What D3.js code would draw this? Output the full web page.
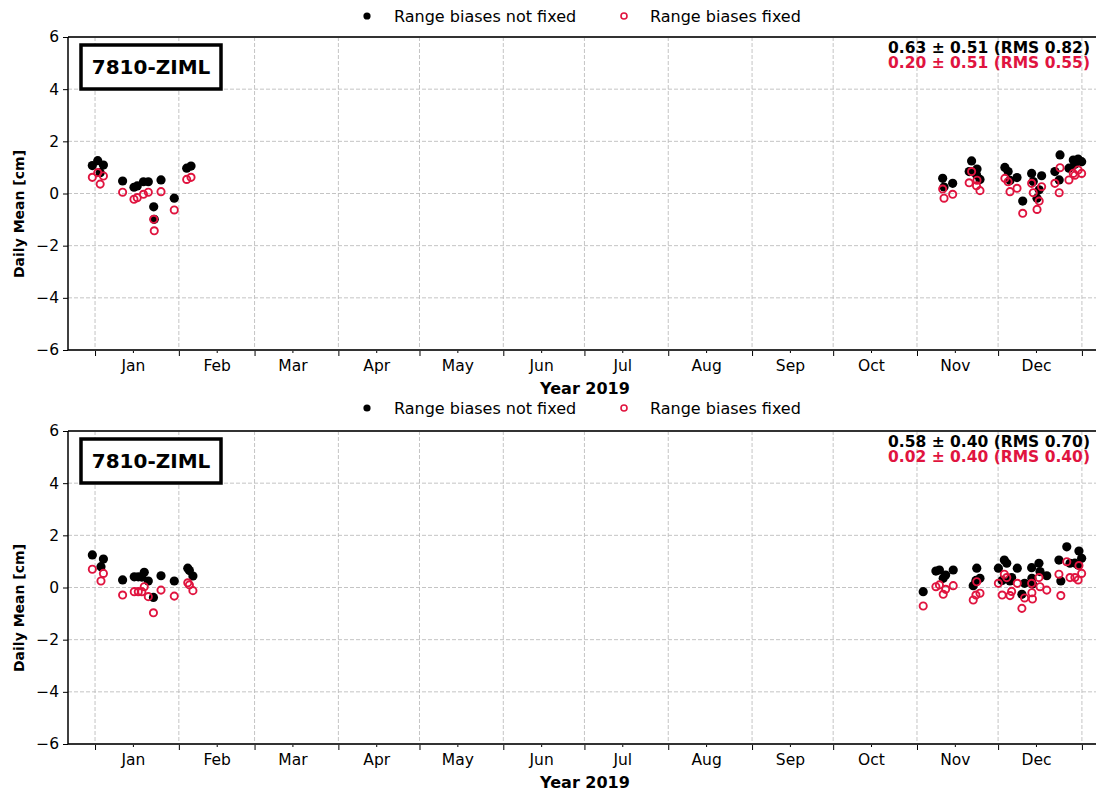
<!DOCTYPE html>
<html><head><meta charset="utf-8">
<script src="https://cdn.jsdelivr.net/npm/d3@7"></script>
<style>
body{margin:0;background:#fff;}
text{font-family:"DejaVu Sans",sans-serif;}
</style></head>
<body><svg id="c" width="1096" height="791"></svg>
<script>
// ---- data (day offsets from 2019-01-01 00:00 UTC, values in cm) ----
const topDays = [-1.0, 1.0, 1.9, 3.1, 10.2, 14.4, 15.6, 17.9, 19.7, 21.7, 21.9, 24.4, 29.3, 33.9, 35.5,
  313.5, 314.0, 317.2, 323.3, 324.2, 326.0, 326.2, 327.3, 336.5, 337.7, 338.4, 341.0, 343.1, 346.4, 347.0,
  348.4, 349.2, 350.1, 355.0, 356.6, 356.9, 360.2, 361.8, 362.4, 363.6, 364.9];
const topNotFixed = [1.07, 1.26, 0.80, 1.09, 0.48, 0.24, 0.29, 0.45, 0.45, -0.51, -0.99, 0.52, -0.18, 0.97, 1.05,
  0.58, 0.25, 0.39, 0.84, 1.25, 0.72, 0.94, 0.54, 1.00, 0.84, 0.50, 0.61, -0.29, 0.77, 0.46,
  -0.18, 0.14, 0.68, 0.84, 0.52, 1.48, 0.97, 1.28, 1.12, 1.32, 1.22];
const topFixed = [0.62, 0.80, 0.36, 0.67, 0.05, -0.22, -0.16, -0.03, 0.05, -0.99, -1.43, 0.07, -0.63, 0.54, 0.62,
  0.17, -0.18, -0.03, 0.41, 0.84, 0.30, 0.51, 0.11, 0.58, 0.45, 0.07, 0.20, -0.76, 0.39, 0.03,
  -0.61, -0.29, 0.26, 0.39, 0.03, 0.99, 0.52, 0.77, 0.70, 0.90, 0.77];

const bottomDays = [-1.0, 2.2, 3.1, 10.2, 14.5, 16.0, 17.3, 18.2, 19.7, 21.6, 24.4, 29.3, 34.3, 34.9, 36.2,
  306.3, 311.0, 312.3, 313.7, 314.6, 317.4, 324.8, 325.8, 326.1, 327.3, 334.1, 335.5, 336.3, 337.2, 338.4,
  339.0, 341.1, 342.8, 343.8, 346.4, 346.5, 346.7, 349.1, 349.5, 352.0, 356.5, 357.2, 359.4, 360.6, 362.4,
  363.6, 363.9, 364.9];
const bottomNotFixed = [1.25, 0.80, 1.09, 0.29, 0.41, 0.41, 0.40, 0.58, 0.25, -0.38, 0.45, 0.25, 0.74, 0.65, 0.44,
  -0.16, 0.63, 0.67, 0.35, 0.48, 0.67, 0.07, 0.27, 0.74, 0.35, 0.74, 0.27, 1.05, 0.93, 0.25,
  0.38, 0.74, -0.26, 0.16, 0.76, 0.35, 0.13, 0.93, 0.61, 0.45, 1.05, 0.25, 1.56, 0.93, 0.94,
  0.86, 1.40, 1.12];
const bottomFixed = [0.70, 0.25, 0.54, -0.29, -0.16, -0.16, -0.16, 0.03, -0.35, -0.97, -0.10, -0.33, 0.18, 0.10, -0.12,
  -0.71, 0.03, 0.10, -0.26, -0.07, 0.07, -0.48, -0.29, 0.22, -0.22, 0.16, -0.29, 0.51, 0.38, -0.31,
  -0.15, 0.16, -0.80, -0.40, 0.16, -0.20, -0.44, 0.38, 0.03, -0.10, 0.51, -0.31, 0.99, 0.38, 0.38,
  0.29, 0.84, 0.54];

const monthLabels = ["Jan","Feb","Mar","Apr","May","Jun","Jul","Aug","Sep","Oct","Nov","Dec"];
const yTicks = [-6, -4, -2, 0, 2, 4, 6];
const legendLabels = ["Range biases not fixed", "Range biases fixed"];
const stationName = "7810-ZIML";
const topStats = ["0.63 \u00b1 0.51 (RMS 0.82)", "0.20 \u00b1 0.51 (RMS 0.55)"];
const bottomStats = ["0.58 \u00b1 0.40 (RMS 0.70)", "0.02 \u00b1 0.40 (RMS 0.40)"];
const xTitle = "Year 2019";
const yTitle = "Daily Mean [cm]";

// ---- drawing ----
const RED = "#e0143f";
const FONT = "DejaVu Sans, sans-serif";
const svg = d3.select("#c");
const DAY = 86400000;
const t0 = Date.UTC(2019, 0, 1);
const toDate = d => new Date(t0 + d * DAY);

const x = d3.scaleUtc()
  .domain([new Date(Date.UTC(2018, 11, 22)), new Date(Date.UTC(2020, 0, 6, 5))])
  .range([68, 1096]);
const monthStarts = d3.utcMonth.range(new Date(Date.UTC(2019, 0, 1)), new Date(Date.UTC(2020, 0, 2)));
const midMonths = monthLabels.map((m, i) => new Date(Date.UTC(2019, i, 15)));

function panel(top, bottom, days, nf, fx, stats, legendY) {
  const y = d3.scaleLinear().domain([-6, 6]).range([bottom, top]);
  const g = svg.append("g");
  const [x0, x1] = x.range();

  // legend
  const lg = g.append("g");
  lg.append("circle").attr("cx", 367).attr("cy", legendY).attr("r", 3.6).attr("fill", "#000");
  lg.append("text").attr("x", 394).attr("y", legendY + 5.5).attr("font-size", 16).text(legendLabels[0]);
  lg.append("circle").attr("cx", 624).attr("cy", legendY).attr("r", 3).attr("fill", "none")
    .attr("stroke", RED).attr("stroke-width", 1.6);
  lg.append("text").attr("x", 650).attr("y", legendY + 5.5).attr("font-size", 16).text(legendLabels[1]);

  // grid
  g.append("g").selectAll("line").data(monthStarts).join("line")
    .attr("x1", d => x(d)).attr("x2", d => x(d)).attr("y1", top).attr("y2", bottom)
    .attr("stroke", "#bdbdbd").attr("stroke-width", 0.9).attr("stroke-dasharray", "4,2");
  g.append("g").selectAll("line").data(yTicks.slice(1, -1)).join("line")
    .attr("x1", x0).attr("x2", x1).attr("y1", d => y(d)).attr("y2", d => y(d))
    .attr("stroke", "#bdbdbd").attr("stroke-width", 0.9).attr("stroke-dasharray", "4,2");

  // axes
  const yAxis = d3.axisLeft(y).tickValues(yTicks).tickSize(5).tickPadding(4)
    .tickFormat(d => d < 0 ? "\u2212" + Math.abs(d) : d);
  const ya = g.append("g").attr("transform", `translate(${x0},0)`).call(yAxis);
  ya.select(".domain").remove();
  ya.selectAll("text").attr("font-size", 15.5).attr("font-family", FONT).attr("fill", "#000");

  const xMajor = d3.axisBottom(x).tickValues(monthStarts).tickSize(6).tickFormat("");
  const xa = g.append("g").attr("transform", `translate(0,${bottom})`).call(xMajor);
  xa.select(".domain").remove();
  const xMinor = d3.axisBottom(x).tickValues(midMonths).tickSize(3).tickPadding(7)
    .tickFormat((d, i) => monthLabels[i]);
  const xb = g.append("g").attr("transform", `translate(0,${bottom})`).call(xMinor);
  xb.select(".domain").remove();
  xb.selectAll("text").attr("font-size", 15.5).attr("font-family", FONT).attr("fill", "#000");

  // spines
  g.append("line").attr("x1", x0).attr("x2", x1).attr("y1", top).attr("y2", top).attr("stroke", "#333").attr("stroke-width", 2);
  g.append("line").attr("x1", x0).attr("x2", x1).attr("y1", bottom).attr("y2", bottom).attr("stroke", "#333").attr("stroke-width", 2);
  g.append("line").attr("x1", x0).attr("x2", x0).attr("y1", top).attr("y2", bottom).attr("stroke", "#000").attr("stroke-width", 1.5);

  // titles
  g.append("text").attr("x", 585).attr("y", bottom + 44).attr("text-anchor", "middle")
    .attr("font-size", 16).attr("font-weight", "bold").text(xTitle);
  g.append("text").attr("transform", `translate(24,${top + 177}) rotate(-90)`)
    .attr("text-anchor", "middle").attr("font-size", 14).attr("font-weight", "bold").text(yTitle);

  // station box
  g.append("rect").attr("x", 81).attr("y", top + 8).attr("width", 140).attr("height", 44)
    .attr("fill", "#fff").attr("stroke", "#000").attr("stroke-width", 3.5);
  g.append("text").attr("x", 151).attr("y", top + 37).attr("text-anchor", "middle")
    .attr("font-size", 20).attr("font-weight", "bold").text(stationName);

  // stats
  g.append("text").attr("x", 1090).attr("y", top + 16).attr("text-anchor", "end")
    .attr("font-size", 15.5).attr("font-weight", "bold").attr("fill", "#000").text(stats[0]);
  g.append("text").attr("x", 1090).attr("y", top + 31).attr("text-anchor", "end")
    .attr("font-size", 15.5).attr("font-weight", "bold").attr("fill", RED).text(stats[1]);

  // points
  g.append("g").selectAll("circle").data(days.map((d, i) => [d, nf[i]])).join("circle")
    .attr("cx", d => x(toDate(d[0]))).attr("cy", d => y(d[1])).attr("r", 4.6).attr("fill", "#000");
  g.append("g").selectAll("circle").data(days.map((d, i) => [d, fx[i]])).join("circle")
    .attr("cx", d => x(toDate(d[0]))).attr("cy", d => y(d[1])).attr("r", 3.6)
    .attr("fill", "none").attr("stroke", RED).attr("stroke-width", 1.9);
}

panel(37, 350, topDays, topNotFixed, topFixed, topStats, 16);
panel(431, 744, bottomDays, bottomNotFixed, bottomFixed, bottomStats, 408);
</script></body></html>
